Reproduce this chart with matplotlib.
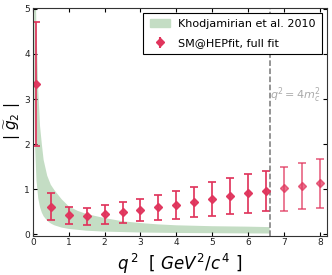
import matplotlib
matplotlib.use("Agg")
import matplotlib.pyplot as plt
from matplotlib.patches import Patch

# SM@HEPfit full fit points
q2 = [0.1, 0.5, 1.0, 1.5, 2.0, 2.5, 3.0, 3.5, 4.0, 4.5, 5.0, 5.5, 6.0, 6.5, 7.0, 7.5, 8.0]
g2 = [3.33, 0.61, 0.42, 0.41, 0.45, 0.50, 0.54, 0.60, 0.66, 0.72, 0.78, 0.84, 0.91, 0.97, 1.02, 1.07, 1.13]
g2_hi = [4.71, 0.91, 0.60, 0.58, 0.64, 0.72, 0.79, 0.87, 0.96, 1.06, 1.15, 1.24, 1.33, 1.41, 1.50, 1.58, 1.67]
g2_lo = [1.95, 0.32, 0.24, 0.21, 0.23, 0.26, 0.29, 0.32, 0.35, 0.38, 0.41, 0.44, 0.48, 0.51, 0.52, 0.56, 0.59]

# Khodjamirian et al. 2010 band
band_q2 = [0.04, 0.06, 0.1, 0.15, 0.2, 0.25, 0.3, 0.4, 0.5, 0.6, 0.8, 1.0, 1.25, 1.5, 2.0, 2.5, 3.0, 3.5, 4.0, 5.0, 6.0, 6.6]
band_hi = [6.5, 6.0, 4.6, 3.2, 2.4, 2.0, 1.65, 1.3, 1.1, 0.98, 0.78, 0.62, 0.52, 0.45, 0.36, 0.29, 0.25, 0.22, 0.20, 0.18, 0.17, 0.16]
band_lo = [3.0, 2.0, 1.2, 0.8, 0.6, 0.48, 0.4, 0.3, 0.24, 0.2, 0.15, 0.12, 0.1, 0.08, 0.06, 0.05, 0.04, 0.035, 0.03, 0.025, 0.02, 0.018]

q2_cut = 6.6
red = "#e0345c"
green = "#c4ddc4"

fig = plt.figure(figsize=(3.32, 2.75), dpi=100)
ax = fig.add_axes([0.099, 0.143, 0.886, 0.828])

ax.fill_between(band_q2, band_lo, band_hi, color=green, lw=0)

inside = [i for i, x in enumerate(q2) if x < q2_cut]
outside = [i for i, x in enumerate(q2) if x >= q2_cut]
for idx, alpha in [(inside, 0.95), (outside, 0.7)]:
    xs = [q2[i] for i in idx]
    ys = [g2[i] for i in idx]
    err = [[g2[i] - g2_lo[i] for i in idx], [g2_hi[i] - g2[i] for i in idx]]
    ax.errorbar(xs, ys, yerr=err, fmt="D", color=red, ms=4.5, elinewidth=1.3,
                capsize=3, capthick=1.3, alpha=alpha)

ax.axvline(q2_cut, color="#777777", ls="--", lw=1.1)
ax.text(q2_cut + 0.02, 3.08, r"$q^2=4m_c^2$", color="#aaaaaa", fontsize=8, va="center")

ax.set_xlim(0, 8.2)
ax.set_ylim(-0.03, 5.02)
ax.set_xticks(range(0, 9))
ax.set_yticks(range(0, 6))
ax.tick_params(direction="in", top=True, right=True, labelsize=6.5, length=3,
               labelcolor="#222222", pad=2)
for s in ax.spines.values():
    s.set_color("#333333")

ax.set_xlabel(r"$q^{\,2}\ \ [\ GeV^2/c^{\,4}\ ]$", fontsize=12, labelpad=3)
ax.set_ylabel(r"$|\ \widetilde{g}_2\ |$", fontsize=11, labelpad=1)

handles = [Patch(color=green),
           ax.errorbar([], [], yerr=[], fmt="D", color=red, ms=4.5, capsize=3)]
leg = ax.legend(handles, ["Khodjamirian et al. 2010", "SM@HEPfit, full fit"],
                loc="upper right", fontsize=8, fancybox=False, framealpha=1,
                edgecolor="black", borderaxespad=0.45, handlelength=1.8,
                labelspacing=0.8, borderpad=0.55)
leg.get_frame().set_linewidth(0.8)

fig.savefig("out.png", dpi=100)
